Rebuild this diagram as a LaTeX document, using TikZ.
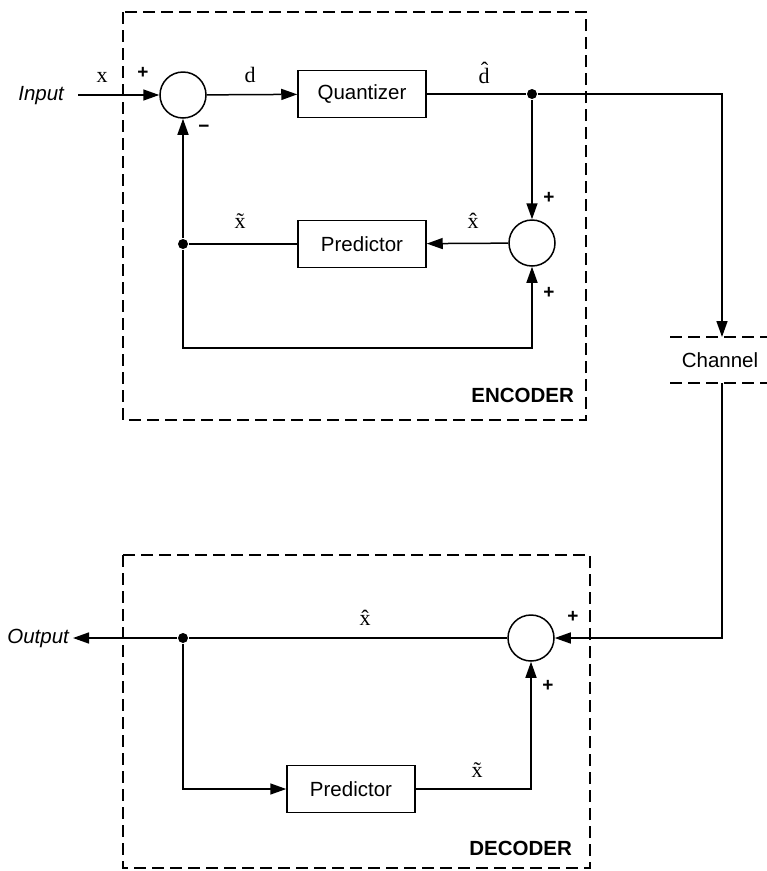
\documentclass[tikz,border=0pt]{standalone}
\usepackage{fontspec}
\setmainfont{Liberation Sans}
\newfontfamily\serifx{Liberation Serif}
\usetikzlibrary{arrows.meta}
\begin{document}
\begin{tikzpicture}[x=1pt,y=-1pt,
  line width=1.5pt,
  every node/.style={font=\fontsize{20.5}{24}\selectfont},
  blk/.style={draw,rectangle,minimum width=128pt,minimum height=47pt,inner sep=0pt},
  summer/.style={draw,circle,minimum size=46pt,inner sep=0pt},
  dotn/.style={circle,fill,minimum size=10pt,inner sep=0pt},
  arr/.style={-{Triangle[length=16pt,width=11pt]}},
  lbl/.style={font=\serifx\fontsize{22}{24}\selectfont,inner sep=0pt},
  sgn/.style={font=\bfseries\fontsize{19}{20}\selectfont,inner sep=0pt},
  frame/.style={dash pattern=on 12pt off 6pt,line width=1.2pt}]
\useasboundingbox (0,0) rectangle (767,871);
% frames
\draw[frame] (123,12) rectangle (586,420);
\draw[frame] (123,555) rectangle (590,868);
\draw[frame] (670,337) -- (767,337);
\draw[frame] (670,383) -- (767,383);
% encoder nodes
\node[summer] (s1) at (183,95) {};
\node[blk] (q) at (362,94) {Quantizer};
\node[dotn] (j1) at (532,94) {};
\node[summer] (s2) at (532,243) {};
\node[blk] (p1) at (362,244) {Predictor};
\node[dotn] (j2) at (183,244) {};
\node[font=\itshape\fontsize{20.5}{24}\selectfont,anchor=east] (in) at (68,96) {Input};
\coordinate (inl) at (78,95);
\coordinate (c1) at (722,94);
\coordinate (ct) at (722,337);
\coordinate (cb) at (722,383);
\node (ch) at (720,360) {Channel};
\coordinate (lb) at (183,348);
\coordinate (rb) at (532,348);
% encoder connections
\draw[arr] (inl) -- (s1);
\draw[arr] (s1) -- (q);
\draw (q) -- (j1);
\draw[arr] (j1) -- (c1) -- (ct);
\draw[arr] (j1) -- (s2);
\draw[arr] (s2) -- (p1);
\draw (p1) -- (j2);
\draw[arr] (j2) -- (s1);
\draw[arr] (j2) -- (lb) -- (rb) -- (s2);
% encoder labels
\node[lbl] at (102,77) {x};
\node[sgn] at (143,73) {+};
\node[sgn] at (204,129) {−};
\node[lbl] at (484,73) {\^{d}};
\node[lbl] at (250,75) {d};
\node[sgn] at (549,198) {+};
\node[sgn] at (549,293) {+};
\node[lbl] at (473,221) {\^{x}};
\node[lbl] at (240,221) {\~{x}};
\node[font=\bfseries\fontsize{20.5}{24}\selectfont,anchor=east] at (578,395) {ENCODER};
% decoder nodes
\node[summer] (s3) at (531,638) {};
\node[dotn] (j3) at (183,638) {};
\node[blk] (p2) at (351,789) {Predictor};
\node[font=\itshape\fontsize{20.5}{24}\selectfont,anchor=east] (out) at (73,638) {Output};
\coordinate (cr) at (722,638);
\coordinate (dl) at (183,789);
\coordinate (dr) at (531,789);
% decoder connections
\draw[arr] (cb) -- (cr) -- (s3);
\draw (s3) -- (j3);
\draw[arr] (j3) -- (out);
\draw[arr] (j3) -- (dl) -- (p2);
\draw[arr] (p2) -- (dr) -- (s3);
% decoder labels
\node[lbl] at (365,618) {\^{x}};
\node[sgn] at (573,617) {+};
\node[sgn] at (548,686) {+};
\node[lbl] at (477,770) {\~{x}};
\node[font=\bfseries\fontsize{20.5}{24}\selectfont,anchor=east] at (576,848) {DECODER};
\end{tikzpicture}
\end{document}
